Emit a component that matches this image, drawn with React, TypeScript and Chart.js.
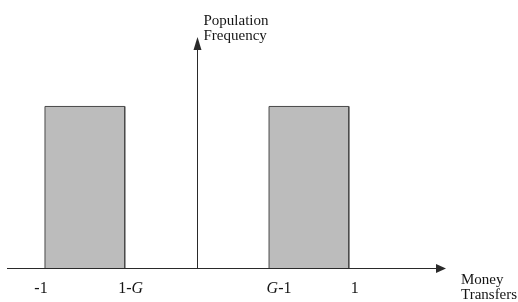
import React, { useEffect, useRef } from "react";
import { Chart, registerables } from "chart.js";

Chart.register(...registerables);

// ---- data ----
const G = 1.475;
const BAR_STARTS = [-1, G - 1];
const BAR_ENDS = [1 - G, 1];
const BAR_HEIGHTS = [1, 1];
const TICK_VALUES = [-1, 1 - G, G - 1, 1];
const TICK_LABELS = ["-1", "1-G", "G-1", "1"];
const X_TITLE = ["Money", "Transfers"];
const Y_TITLE = ["Population", "Frequency"];
const X_MIN = -1.25;
const X_MAX = 1.64;
const Y_MAX = 1.43;

const SERIF = '"Liberation Serif", "Times New Roman", serif';
const INK = "#151515";
const AXIS = "#2a2a2a";

function drawMixed(ctx: CanvasRenderingContext2D, text: string, cx: number, y: number, size: number) {
  const parts = text.split("").map((ch) => ({ ch, italic: ch === "G" }));
  let total = 0;
  for (const p of parts) {
    ctx.font = `${p.italic ? "italic " : ""}${size}px ${SERIF}`;
    total += ctx.measureText(p.ch).width;
  }
  let x = cx - total / 2;
  ctx.textAlign = "left";
  for (const p of parts) {
    ctx.font = `${p.italic ? "italic " : ""}${size}px ${SERIF}`;
    ctx.fillText(p.ch, x, y);
    x += ctx.measureText(p.ch).width;
  }
}

const axesPlugin = {
  id: "customAxes",
  afterDatasetsDraw(chart: any) {
    const ctx: CanvasRenderingContext2D = chart.ctx;
    const xs = chart.scales.x;
    const ys = chart.scales.y;
    const area = chart.chartArea;
    const x0 = Math.round(xs.getPixelForValue(0)) + 0.5;
    const y0 = Math.round(ys.getPixelForValue(0)) + 0.5;
    ctx.save();
    ctx.strokeStyle = AXIS;
    ctx.fillStyle = AXIS;
    ctx.lineWidth = 1;
    // x axis
    ctx.beginPath();
    ctx.moveTo(area.left, y0);
    ctx.lineTo(area.right - 4, y0);
    ctx.stroke();
    ctx.beginPath();
    ctx.moveTo(area.right, y0);
    ctx.lineTo(area.right - 10, y0 - 4.5);
    ctx.lineTo(area.right - 10, y0 + 4.5);
    ctx.closePath();
    ctx.fill();
    // y axis
    ctx.beginPath();
    ctx.moveTo(x0, y0);
    ctx.lineTo(x0, area.top + 4);
    ctx.stroke();
    ctx.beginPath();
    ctx.moveTo(x0, area.top);
    ctx.lineTo(x0 - 4, area.top + 13);
    ctx.lineTo(x0 + 4, area.top + 13);
    ctx.closePath();
    ctx.fill();

    // tick labels
    ctx.fillStyle = INK;
    ctx.textBaseline = "alphabetic";
    const nudge = [-4, 6, 10, 6];
    TICK_VALUES.forEach((v, i) => {
      const px = xs.getPixelForValue(v) + nudge[i];
      drawMixed(ctx, TICK_LABELS[i], px, y0 + 24, 16);
    });

    // axis titles
    ctx.font = `15px ${SERIF}`;
    ctx.textAlign = "left";
    ctx.fillText(X_TITLE[0], area.right + 15, y0 + 15);
    ctx.fillText(X_TITLE[1], area.right + 15, y0 + 30);
    ctx.fillText(Y_TITLE[0], x0 + 6, area.top - 12);
    ctx.fillText(Y_TITLE[1], x0 + 6, area.top + 3);
    ctx.restore();
  },
};

export default function App() {
  const ref = useRef<HTMLCanvasElement | null>(null);
  useEffect(() => {
    if (!ref.current) return;
    const datasets = BAR_STARTS.map((s, i) => ({
      data: [
        { x: s, y: 0 },
        { x: s, y: BAR_HEIGHTS[i] },
        { x: BAR_ENDS[i], y: BAR_HEIGHTS[i] },
        { x: BAR_ENDS[i], y: 0 },
      ],
      showLine: true,
      fill: "origin",
      backgroundColor: "#bcbcbc",
      borderColor: "#4a4a4a",
      borderWidth: 1,
      pointRadius: 0,
      tension: 0,
    }));
    const chart = new Chart(ref.current, {
      type: "scatter",
      data: { datasets } as any,
      options: {
        animation: false,
        responsive: false,
        maintainAspectRatio: false,
        layout: { padding: { left: 7, right: 72, top: 37, bottom: 34 } },
        plugins: { legend: { display: false }, tooltip: { enabled: false } },
        scales: {
          x: { type: "linear", min: X_MIN, max: X_MAX, display: false },
          y: { type: "linear", min: 0, max: Y_MAX, display: false },
        },
      } as any,
      plugins: [axesPlugin],
    });
    return () => chart.destroy();
  }, []);
  return (
    <div style={{ position: "absolute", left: 0, top: 0, width: 518, height: 302, background: "#fff" }}>
      <canvas ref={ref} width={518} height={302} style={{ display: "block" }} />
    </div>
  );
}
